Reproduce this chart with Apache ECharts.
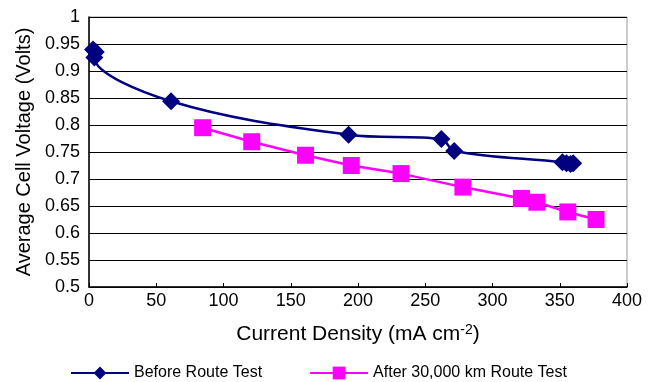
<!DOCTYPE html>
<html><head><meta charset="utf-8">
<script src="https://cdn.jsdelivr.net/npm/echarts@6/dist/echarts.min.js"></script>
<style>html,body{margin:0;padding:0;background:#fff}#c{width:658px;height:382px}</style>
</head><body><div id="c"></div>
<script>
const seriesNames = ['Before Route Test', 'After 30,000 km Route Test'];
const beforeX = [3, 5, 4, 61, 193, 262, 271.5, 352, 355, 358, 360];
const beforeY = [0.94, 0.935, 0.925, 0.844, 0.782, 0.774, 0.752, 0.731, 0.729, 0.728, 0.729];
const afterX = [84.5, 121, 161, 195, 232, 278, 321.5, 333, 356, 377];
const afterY = [0.795, 0.769, 0.744, 0.725, 0.710, 0.685, 0.664, 0.657, 0.639, 0.625];
const xTicks = [0, 50, 100, 150, 200, 250, 300, 350, 400];
const yTicks = [0.5, 0.55, 0.6, 0.65, 0.7, 0.75, 0.8, 0.85, 0.9, 0.95, 1];

const font = 'Liberation Sans, Arial, sans-serif';
const chart = echarts.init(document.getElementById('c'));
chart.setOption({
  animation: false,
  backgroundColor: '#fff',
  grid: { left: 89, right: 31, top: 17, bottom: 95, show: true, borderColor: '#999', borderWidth: 1 },
  xAxis: {
    type: 'value', min: xTicks[0], max: xTicks[xTicks.length - 1], interval: 50,
    name: '{a|Current Density (mA cm}{s|-2}{a|)}', nameLocation: 'middle', nameGap: 36,
    nameTextStyle: { rich: { a: { fontFamily: font, fontSize: 21, color: '#000' }, s: { fontFamily: font, fontSize: 14, color: '#000', verticalAlign: 'top', padding: [0, 0, 9, 0] } } },
    axisLine: { lineStyle: { color: '#000', width: 1.5 } },
    axisTick: { inside: true, length: 4, lineStyle: { color: '#000' } },
    splitLine: { show: false },
    axisLabel: { fontFamily: font, fontSize: 18, color: '#000', margin: 5 }
  },
  yAxis: {
    type: 'value', min: yTicks[0], max: yTicks[yTicks.length - 1], interval: 0.05,
    name: 'Average Cell Voltage (Volts)', nameLocation: 'middle', nameGap: 53,
    nameTextStyle: { fontFamily: font, fontSize: 20, color: '#000' },
    axisLine: { lineStyle: { color: '#000', width: 1.5 } },
    axisTick: { show: false },
    splitLine: { lineStyle: { color: '#000', width: 1 } },
    axisLabel: { fontFamily: font, fontSize: 18, color: '#000', margin: 9,
      formatter: v => String(parseFloat(v.toFixed(2))) }
  },
  legend: {
    top: 365, left: 70, padding: 0, itemWidth: 58, itemHeight: 16, itemGap: 47,
    textStyle: { fontFamily: font, fontSize: 16, color: '#000' },
    data: seriesNames
  },
  series: [
    { name: seriesNames[0], type: 'line', smooth: 0.35,
      data: beforeX.map((x, i) => [x, beforeY[i]]),
      symbol: 'diamond', symbolSize: [18, 18],
      itemStyle: { color: '#000080' }, lineStyle: { color: '#000080', width: 2.5 } },
    { name: seriesNames[1], type: 'line',
      data: afterX.map((x, i) => [x, afterY[i]]),
      symbol: 'rect', symbolSize: 17,
      itemStyle: { color: '#ff00ff' }, lineStyle: { color: '#ff00ff', width: 2.5 } }
  ]
});
</script></body></html>
